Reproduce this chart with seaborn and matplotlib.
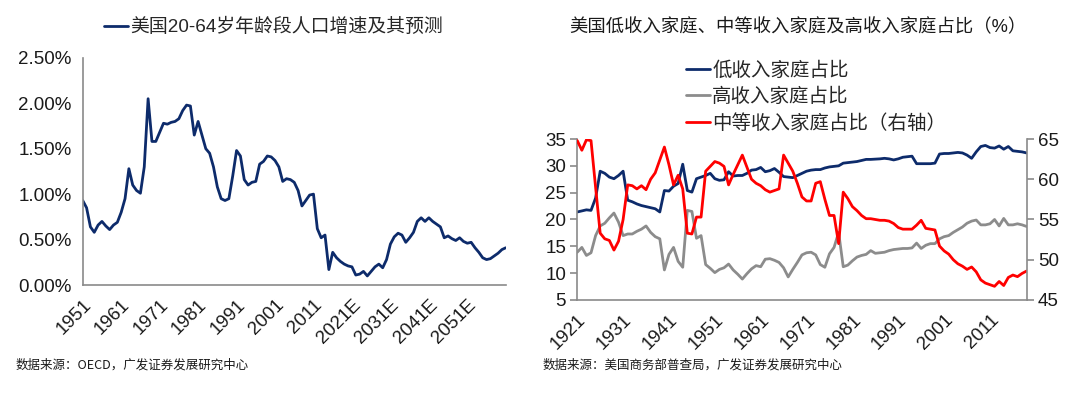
import numpy as np
import pandas as pd
import matplotlib
matplotlib.use("Agg")
import matplotlib.pyplot as plt
import seaborn as sns
from matplotlib.ticker import FuncFormatter

# ---- left panel: US 20-64 population growth (%), 1951-2061 ----
pop_years = list(range(1951, 2062))
pop_growth = [
    0.93, 0.85, 0.64, 0.58, 0.66, 0.70, 0.65, 0.61, 0.66, 0.69,
    0.80, 0.95, 1.28, 1.10, 1.04, 1.01, 1.30, 2.05, 1.58, 1.58,
    1.68, 1.78, 1.77, 1.79, 1.80, 1.83, 1.92, 1.98, 1.97, 1.65,
    1.80, 1.65, 1.50, 1.45, 1.30, 1.08, 0.95, 0.93, 0.95, 1.20,
    1.48, 1.42, 1.16, 1.10, 1.13, 1.14, 1.33, 1.36, 1.42, 1.41,
    1.37, 1.30, 1.14, 1.17, 1.16, 1.13, 1.04, 0.87, 0.93, 0.99,
    1.00, 0.62, 0.52, 0.55, 0.17, 0.36, 0.30, 0.26, 0.23, 0.21,
    0.20, 0.11, 0.12, 0.15, 0.10, 0.15, 0.20, 0.23, 0.19, 0.28,
    0.45, 0.53, 0.57, 0.55, 0.47, 0.52, 0.58, 0.70, 0.74, 0.70,
    0.74, 0.70, 0.67, 0.64, 0.52, 0.54, 0.51, 0.49, 0.52, 0.48,
    0.46, 0.47, 0.41, 0.36, 0.30, 0.28, 0.29, 0.32, 0.35, 0.39,
    0.41,
]
pop_ticks = list(range(1951, 2062, 10))
pop_ticklabels = ["1951", "1961", "1971", "1981", "1991", "2001", "2011",
                  "2021E", "2031E", "2041E", "2051E", ""]

# ---- right panel: household shares (%), 1921-2019 ----
hh_years = list(range(1921, 2020))
low_share = [
    21.4, 21.6, 21.8, 21.7, 24.0, 29.0, 28.6, 27.9, 27.6, 28.2,
    29.0, 23.6, 23.3, 22.9, 22.6, 22.4, 22.2, 22.0, 21.4, 25.4,
    25.3, 26.2, 26.7, 30.3, 25.4, 25.1, 27.6, 27.9, 28.2, 28.6,
    27.6, 27.3, 27.4, 28.9, 28.1, 28.2, 28.2, 28.6, 29.2, 29.3,
    29.7, 28.9, 29.1, 29.5, 28.8, 28.0, 27.9, 27.8, 28.2, 28.6,
    29.0, 29.2, 29.3, 29.3, 29.6, 29.8, 29.9, 30.0, 30.5, 30.6,
    30.7, 30.8, 31.0, 31.2, 31.2, 31.25, 31.3, 31.4, 31.3, 31.1,
    31.3, 31.6, 31.7, 31.8, 30.4, 30.4, 30.4, 30.4, 30.5, 32.2,
    32.3, 32.3, 32.4, 32.5, 32.4, 32.0, 31.4, 32.6, 33.6, 33.8,
    33.4, 33.3, 33.7, 33.1, 33.6, 32.8, 32.7, 32.6, 32.4,
]
high_share = [
    13.9, 14.8, 13.3, 13.8, 17.0, 18.8, 19.3, 20.3, 21.2, 19.5,
    17.0, 17.3, 17.3, 17.8, 18.2, 18.8, 17.6, 16.8, 16.4, 10.6,
    13.5, 14.8, 12.2, 11.1, 21.7, 21.5, 16.5, 17.0, 11.6, 10.9,
    10.1, 10.7, 11.0, 11.7, 10.6, 9.8, 8.9, 9.9, 10.8, 11.4,
    11.2, 12.6, 12.7, 12.4, 12.0, 11.0, 9.3, 10.7, 12.0, 13.4,
    13.8, 13.9, 13.4, 11.6, 11.1, 13.6, 14.8, 17.6, 11.2, 11.5,
    12.3, 13.0, 13.3, 13.5, 14.2, 13.7, 13.8, 13.9, 14.2, 14.4,
    14.5, 14.6, 14.6, 14.7, 15.6, 14.6, 15.2, 15.5, 15.5, 16.4,
    16.8, 17.0, 17.6, 18.1, 18.6, 19.3, 19.7, 19.9, 19.0, 19.0,
    19.2, 20.0, 18.8, 20.2, 19.0, 19.0, 19.2, 19.0, 18.7,
]
mid_share = [
    64.8, 63.6, 64.9, 64.8, 59.0, 53.3, 52.6, 52.4, 51.2, 52.3,
    55.0, 59.3, 59.2, 58.8, 59.2, 58.7, 60.0, 60.8, 62.4, 64.0,
    61.8, 59.3, 60.5, 58.8, 53.3, 53.2, 55.3, 55.3, 61.0, 61.6,
    62.2, 62.0, 61.6, 59.3, 60.6, 61.8, 63.0, 61.5, 60.0, 59.5,
    59.2, 58.7, 58.4, 58.6, 58.8, 63.0, 62.0, 61.0, 59.5, 57.8,
    57.3, 57.3, 59.5, 59.7, 57.5, 55.5, 55.5, 52.0, 58.4, 57.6,
    56.6, 56.1, 55.5, 55.1, 55.1, 55.0, 54.9, 54.9, 54.8, 54.5,
    54.0, 53.8, 53.8, 53.8, 54.3, 54.9, 53.9, 53.8, 53.7, 51.7,
    51.1, 50.7, 50.0, 49.5, 49.2, 48.8, 49.1, 48.5, 47.5, 47.1,
    46.9, 46.7, 47.3, 46.8, 47.8, 48.1, 47.9, 48.3, 48.6,
]
hh_ticks = list(range(1921, 2012, 10))

NAVY = "#0d2b6b"
GREY = "#8c8c8c"
RED = "#ff0000"
AXIS = "#8a8a8a"

sns.set_style("white")
plt.rcParams["font.family"] = ["Liberation Sans", "Noto Sans CJK SC", "DejaVu Sans"]

df_pop = pd.DataFrame({"year": pop_years, "growth": pop_growth})
df_hh = pd.DataFrame({"year": hh_years, "low": low_share, "high": high_share, "mid": mid_share})

fig = plt.figure(figsize=(10.8, 3.94), dpi=100)
ax1 = fig.add_axes([0.0766, 0.2766, 0.3917, 0.5766])
ax2 = fig.add_axes([0.5345, 0.2386, 0.4161, 0.4086])
ax3 = ax2.twinx()


def style_axis(ax, sides):
    for side in ["top", "right", "left", "bottom"]:
        ax.spines[side].set_visible(side in sides)
        ax.spines[side].set_color(AXIS)
        ax.spines[side].set_linewidth(1.2)
    ax.tick_params(axis="both", direction="out", length=5, width=1.2,
                   color=AXIS, labelsize=13.5, labelcolor="#1a1a1a", pad=3)
    ax.set_xlabel("")
    ax.set_ylabel("")


# left chart
sns.lineplot(data=df_pop, x="year", y="growth", ax=ax1, color=NAVY, linewidth=2.0,
             label="美国20-64岁年龄段人口增速及其预测")
ax1.set_xlim(1951, 2061)
ax1.set_ylim(0, 2.5)
ax1.set_yticks(np.arange(0, 2.51, 0.5))
ax1.yaxis.set_major_formatter(FuncFormatter(lambda v, p: f"{v:.2f}%"))
ax1.set_xticks(pop_ticks)
ax1.set_xticklabels(pop_ticklabels, rotation=45, ha="right", rotation_mode="anchor")
style_axis(ax1, ["left", "bottom"])
ax1.legend(loc="center", bbox_to_anchor=(0.253, 0.931), bbox_transform=fig.transFigure,
           frameon=False, fontsize=13.6, handlelength=1.3, handletextpad=0.1)

# right chart
sns.lineplot(data=df_hh, x="year", y="low", ax=ax2, color=NAVY, linewidth=2.0, label="低收入家庭占比")
sns.lineplot(data=df_hh, x="year", y="high", ax=ax2, color=GREY, linewidth=2.0, label="高收入家庭占比")
sns.lineplot(data=df_hh, x="year", y="mid", ax=ax3, color=RED, linewidth=2.0, label="中等收入家庭占比（右轴）")
ax2.set_xlim(1921, 2019)
ax2.set_ylim(5, 35)
ax2.set_yticks(range(5, 36, 5))
ax3.set_ylim(45, 65)
ax3.set_yticks(range(45, 66, 5))
ax2.set_xticks(hh_ticks)
ax2.set_xticklabels([str(y) for y in hh_ticks], rotation=45, ha="right", rotation_mode="anchor")
style_axis(ax2, ["left", "bottom"])
style_axis(ax3, ["right", "bottom"])
ax3.spines["bottom"].set_visible(False)

h2, l2 = ax2.get_legend_handles_labels()
h3, l3 = ax3.get_legend_handles_labels()
ax2.get_legend().remove()
ax3.get_legend().remove()
fig.legend(h2 + h3, l2 + l3, loc="center left", bbox_to_anchor=(686 / 1080, 0.754),
           frameon=False, fontsize=14, handlelength=1.25, handletextpad=0.1,
           labelspacing=0.42, borderpad=0, borderaxespad=0)

fig.text(0.527, 0.931, "美国低收入家庭、中等收入家庭及高收入家庭占比（%）",
         ha="left", va="center", fontsize=13.2, color="#1a1a1a")

fig.text(0.014, 0.073, "数据来源：OECD，广发证券发展研究中心", ha="left", va="center",
         fontsize=9, family=["Noto Sans CJK SC"], color="#1a1a1a")
fig.text(0.502, 0.073, "数据来源：美国商务部普查局，广发证券发展研究中心", ha="left", va="center",
         fontsize=9, family=["Noto Sans CJK SC"], color="#1a1a1a")

plt.savefig("out.png", dpi=100)
